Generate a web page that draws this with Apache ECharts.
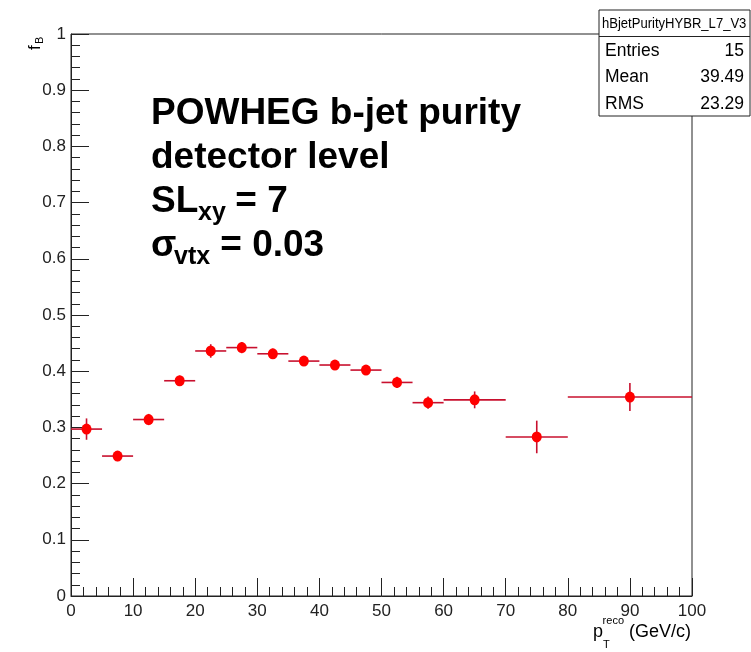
<!DOCTYPE html>
<html>
<head>
<meta charset="utf-8">
<script src="https://cdn.jsdelivr.net/npm/echarts@6/dist/echarts.min.js"></script>
<style>
  html, body { margin: 0; padding: 0; background: #fff; }
  #chart { width: 751px; height: 652px; }
</style>
</head>
<body>
<div id="chart"></div>
<script>
// b-jet purity per reconstructed pT bin
const binLow    = [0, 5, 10, 15, 20, 25, 30, 35, 40, 45, 50, 55, 60, 70, 80];
const binHigh   = [5, 10, 15, 20, 25, 30, 35, 40, 45, 50, 55, 60, 70, 80, 100];
const purity    = [0.297, 0.249, 0.314, 0.383, 0.436, 0.442, 0.431, 0.418, 0.411, 0.402, 0.380, 0.344, 0.349, 0.283, 0.354];
const purityErr = [0.019, 0.009, 0.010, 0.009, 0.012, 0.010, 0.009, 0.008, 0.008, 0.008, 0.010, 0.011, 0.015, 0.029, 0.025];

// statistics box
const histName  = 'hBjetPurityHYBR_L7_V3';
const statNames = ['Entries', 'Mean', 'RMS'];
const statVals  = ['15', '39.49', '23.29'];

const FONT = '"Liberation Sans", Arial, Helvetica, sans-serif';
const AXIS_COLOR = '#222';
const LINE_RED = '#c8102e';

const binCenter = binLow.map((lo, i) => (lo + binHigh[i]) / 2);
const points = purity.map((v, i) => [binCenter[i], v, binLow[i], binHigh[i], purityErr[i]]);

const chart = echarts.init(document.getElementById('chart'), null, { renderer: 'canvas' });

function txt(x, y, text, size, opts) {
  opts = opts || {};
  return {
    type: 'text', x: x, y: y,
    rotation: opts.rotation || 0,
    scaleX: opts.scaleX || 1,
    z: 100,
    style: {
      text: text,
      fontFamily: FONT,
      fontSize: size,
      fontWeight: opts.bold ? 'bold' : 'normal',
      fill: opts.fill || '#000',
      align: opts.align || 'left',
      verticalAlign: 'middle'
    }
  };
}

// annotation block (main font 37px, subscripts 25px)
const B = 37, S = 25, dy = 4;
const annot = [
  txt(151, 110 + dy, 'POWHEG b-jet purity', B, { bold: true }),
  txt(151, 154 + dy, 'detector level', B, { bold: true }),
  txt(151, 198 + dy, 'SL', B, { bold: true }),
  txt(198, 209 + dy, 'xy', S, { bold: true }),
  txt(225, 198 + dy, ' = 7', B, { bold: true }),
  txt(151, 242 + dy, 'σ', B, { bold: true }),
  txt(174, 253 + dy, 'vtx', S, { bold: true }),
  txt(210, 242 + dy, ' = 0.03', B, { bold: true })
];

// axis titles
const axisTitles = [
  txt(35, 50, 'f', 17, { rotation: Math.PI / 2 }),
  txt(40, 44, 'B', 11, { rotation: Math.PI / 2 }),
  txt(691, 632, '(GeV/c)', 18, { align: 'right' }),
  txt(624, 621, 'reco', 11, { align: 'right' }),
  txt(603, 645, 'T', 11),
  txt(593, 632, 'p', 18)
];

// statistics box: title row plus one row per entry
const boxL = 599, boxR = 750, boxT = 10, rowH = 26.5;
const boxB = boxT + rowH * (statNames.length + 1);
const stats = [
  { type: 'rect', z: 90, shape: { x: boxL, y: boxT, width: boxR - boxL, height: boxB - boxT },
    style: { fill: '#fff', stroke: '#222', lineWidth: 1 } },
  { type: 'line', z: 91, shape: { x1: boxL, y1: boxT + rowH, x2: boxR, y2: boxT + rowH },
    style: { stroke: '#222', lineWidth: 1 } },
  // the title scales about its own origin, so its left edge is placed by hand
  txt(602, boxT + rowH / 2 + 0.5, histName, 14.5, { scaleX: 0.9 })
];
statNames.forEach((n, i) => {
  const cy = boxT + rowH * (i + 1.5) + 1;
  stats.push(txt(boxL + 6, cy, n, 17.5));
  stats.push(txt(boxR - 6, cy, statVals[i], 17.5, { align: 'right' }));
});

const option = {
  animation: false,
  backgroundColor: '#fff',
  grid: {
    left: 71, right: 59, top: 34, bottom: 56,
    show: true, borderColor: AXIS_COLOR, borderWidth: 1, backgroundColor: 'transparent'
  },
  xAxis: {
    type: 'value', min: 0, max: 100, interval: 10,
    axisLine: { onZero: false, lineStyle: { color: AXIS_COLOR, width: 1 } },
    axisTick: { inside: true, length: 18, lineStyle: { color: AXIS_COLOR } },
    minorTick: { show: true, splitNumber: 5, length: 9, lineStyle: { color: AXIS_COLOR } },
    splitLine: { show: false },
    axisLabel: { margin: 7, fontFamily: FONT, fontSize: 17, color: '#222', showMinLabel: true, showMaxLabel: true }
  },
  yAxis: {
    type: 'value', min: 0, max: 1, interval: 0.1,
    axisLine: { onZero: false, lineStyle: { color: AXIS_COLOR, width: 1 } },
    axisTick: { inside: true, length: 18, lineStyle: { color: AXIS_COLOR } },
    minorTick: { show: true, splitNumber: 5, length: 9, lineStyle: { color: AXIS_COLOR } },
    splitLine: { show: false },
    axisLabel: { margin: 5, fontFamily: FONT, fontSize: 17, color: '#222', showMinLabel: true, showMaxLabel: true }
  },
  series: [
    {
      type: 'custom',
      z: 2,
      clip: false,
      encode: { x: 0, y: 1 },
      data: points,
      renderItem: function (params, api) {
        const xc = api.value(0), y = api.value(1), lo = api.value(2), hi = api.value(3), e = api.value(4);
        const pL = api.coord([lo, y]), pR = api.coord([hi, y]);
        const pT = api.coord([xc, y + e]), pB = api.coord([xc, y - e]);
        return {
          type: 'group',
          children: [
            { type: 'line', shape: { x1: pL[0], y1: pL[1], x2: pR[0], y2: pR[1] },
              style: { stroke: LINE_RED, lineWidth: 1.6 } },
            { type: 'line', shape: { x1: pT[0], y1: pT[1], x2: pB[0], y2: pB[1] },
              style: { stroke: LINE_RED, lineWidth: 1.6 } }
          ]
        };
      }
    },
    {
      type: 'scatter',
      z: 3,
      data: points.map(p => [p[0], p[1]]),
      symbol: 'circle',
      symbolSize: [10, 11],
      itemStyle: { color: '#ff0000', opacity: 1 }
    }
  ],
  graphic: annot.concat(axisTitles, stats)
};

chart.setOption(option);
</script>
</body>
</html>
